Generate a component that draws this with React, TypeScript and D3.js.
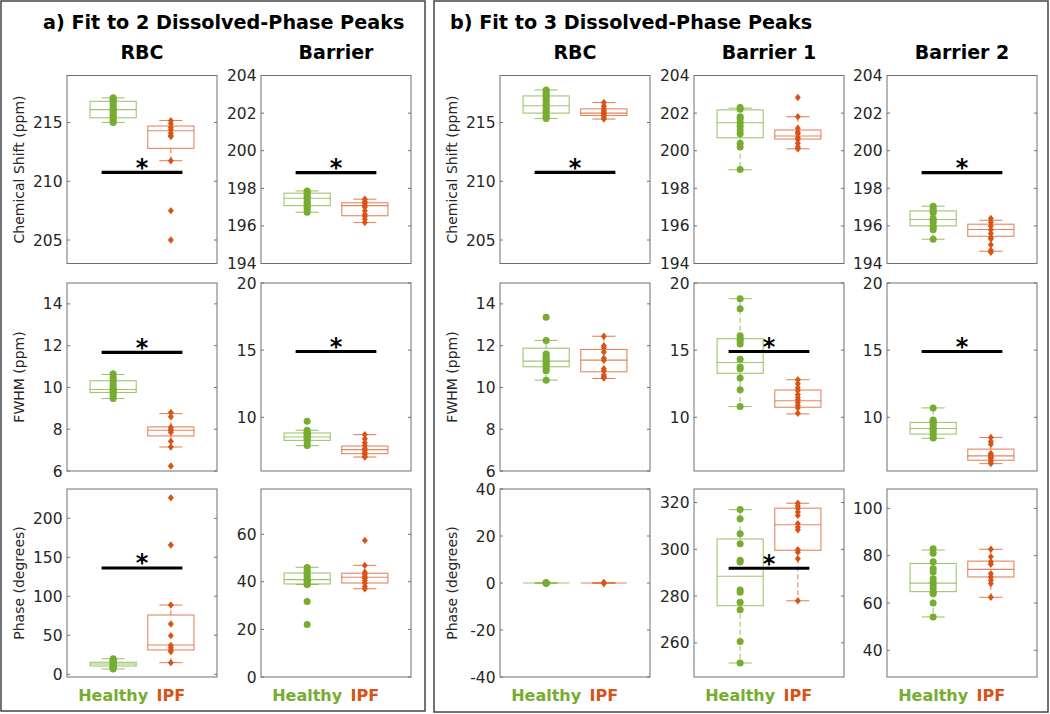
import React from "react";
import * as d3 from "d3";

const GREEN = "#77AC30";
const ORANGE = "#D95319";

const groups = ["Healthy", "IPF"];
const titleA = "a) Fit to 2 Dissolved-Phase Peaks";
const titleB = "b) Fit to 3 Dissolved-Phase Peaks";
const columnTitles = ["RBC", "Barrier", "RBC", "Barrier 1", "Barrier 2"];
const rowLabels = ["Chemical Shift (ppm)", "FWHM (ppm)", "Phase (degrees)"];

// ---------- Row 1: Chemical shift (ppm) ----------
const csRbcA_H = [217.1, 217.0, 216.9, 216.8, 216.6, 216.4, 216.2, 216.1, 216.0, 215.8, 215.6, 215.5, 215.3, 215.1, 215.0];
const csRbcA_I = [215.15, 214.9, 214.6, 214.4, 214.1, 213.9, 213.8, 211.75, 207.5, 205.0];
const csRbcA_Box = [[215.0, 215.4, 216.1, 216.8, 217.1], [211.75, 212.8, 214.3, 214.7, 215.17]];

const csBarA_H = [197.86, 197.8, 197.7, 197.6, 197.5, 197.45, 197.3, 197.2, 197.1, 197.0, 196.9, 196.73];
const csBarA_I = [197.42, 197.3, 197.2, 197.1, 197.0, 196.8, 196.6, 196.5, 196.35, 196.18];
const csBarA_Box = [[196.73, 197.08, 197.47, 197.74, 197.86], [196.18, 196.54, 197.08, 197.23, 197.42]];

const csRbcB_H = [217.77, 217.6, 217.4, 217.2, 217.0, 216.8, 216.6, 216.4, 216.2, 216.0, 215.8, 215.6, 215.45, 215.34];
const csRbcB_I = [216.7, 216.4, 216.2, 216.0, 215.9, 215.8, 215.7, 215.6, 215.45, 215.29];
const csRbcB_Box = [[215.34, 215.8, 216.42, 217.26, 217.77], [215.29, 215.6, 215.8, 216.16, 216.7]];

const csBar1B_H = [202.3, 202.2, 201.8, 201.7, 201.5, 201.3, 201.1, 200.9, 200.4, 200.2, 199.0];
const csBar1B_I = [202.83, 201.81, 201.2, 201.0, 200.9, 200.7, 200.6, 200.4, 200.2, 200.1];
const csBar1B_Box = [[198.99, 200.69, 201.49, 202.17, 202.26], [200.1, 200.62, 200.78, 201.1, 201.81]];

const csBar2B_H = [197.05, 196.9, 196.8, 196.7, 196.4, 196.3, 196.2, 196.0, 195.9, 195.8, 195.29];
const csBar2B_I = [196.4, 196.2, 196.0, 195.8, 195.6, 195.4, 195.3, 195.0, 194.7, 194.6];
const csBar2B_Box = [[195.29, 196.0, 196.34, 196.8, 197.05], [194.65, 195.45, 195.81, 196.09, 196.3]];

// ---------- Row 2: FWHM (ppm) ----------
const fwRbcA_H = [10.65, 10.5, 10.4, 10.3, 10.15, 10.0, 9.9, 9.85, 9.8, 9.7, 9.6, 9.47];
const fwRbcA_I = [8.8, 8.6, 8.1, 8.0, 7.95, 7.85, 7.42, 7.15, 6.24];
const fwRbcA_Box = [[9.47, 9.76, 9.9, 10.32, 10.62], [7.15, 7.68, 7.95, 8.11, 8.75]];

const fwBarA_H = [9.7, 9.03, 8.9, 8.8, 8.7, 8.6, 8.5, 8.4, 8.3, 8.1, 7.9];
const fwBarA_I = [8.71, 8.4, 8.1, 7.9, 7.7, 7.55, 7.4, 7.25, 7.1, 7.04];
const fwBarA_Box = [[7.89, 8.28, 8.53, 8.83, 9.03], [7.04, 7.29, 7.59, 7.86, 8.71]];

const fwRbcB_H = [13.36, 12.25, 11.6, 11.5, 11.4, 11.3, 11.2, 11.1, 11.0, 10.9, 10.8, 10.35];
const fwRbcB_I = [12.45, 12.0, 11.9, 11.7, 11.4, 11.3, 10.9, 10.8, 10.6, 10.5, 10.45];
const fwRbcB_Box = [[10.35, 10.99, 11.26, 11.88, 12.25], [10.43, 10.75, 11.31, 11.82, 12.45]];

const fwBar1B_H = [18.83, 18.08, 16.08, 15.85, 15.68, 15.45, 14.33, 13.75, 13.62, 12.93, 12.05, 10.8];
const fwBar1B_I = [12.8, 12.5, 12.2, 12.0, 11.7, 11.5, 11.3, 11.1, 10.9, 10.7, 10.3];
const fwBar1B_Box = [[10.8, 13.28, 14.08, 15.85, 18.83], [10.25, 10.75, 11.23, 12.03, 12.8]];

const fwBar2B_H = [10.7, 9.8, 9.7, 9.6, 9.5, 9.3, 9.1, 9.0, 8.8, 8.6, 8.45];
const fwBar2B_I = [8.5, 8.2, 8.0, 7.3, 7.2, 7.1, 7.0, 6.9, 6.7, 6.55];
const fwBar2B_Box = [[8.43, 8.75, 9.17, 9.62, 10.7], [6.55, 6.8, 7.13, 7.63, 8.5]];

// ---------- Row 3: Phase (degrees) ----------
const phRbcA_H = [20, 18, 17, 15.5, 14, 13, 12, 11, 10, 9, 8, 6.8];
const phRbcA_I = [226.4, 165.8, 88.8, 64.5, 49.5, 37, 34, 31, 29, 14.9];
const phRbcA_Box = [[6.8, 10.6, 13.2, 15.4, 20], [14.9, 31.2, 37.6, 76, 88.8]];

const phBarA_H = [46, 45, 44, 43, 42, 41, 40.5, 40, 39, 38.9, 31.7, 22.1];
const phBarA_I = [57.4, 46.9, 44, 43, 42, 41.5, 40.5, 39.5, 38, 37.1];
const phBarA_Box = [[38.9, 39.1, 40.9, 43.7, 46.1], [37.1, 39.5, 41.9, 43.6, 46.9]];

const phRbcB_H = [0, 0, 0, 0, 0, 0];
const phRbcB_I = [0, 0, 0, 0, 0, 0];
const phRbcB_Box = [[0, 0, 0, 0, 0], [0, 0, 0, 0, 0]];

const phBar1B_H = [317.0, 313.1, 306.7, 302.4, 295.3, 294.6, 282.6, 281.6, 277.4, 274.2, 260.6, 251.4];
const phBar1B_I = [319.7, 318.5, 317.5, 316, 314.5, 311, 309.5, 308.4, 299.8, 298.8, 296, 278];
const phBar1B_Box = [[251.4, 275.9, 288.5, 304.4, 317.0], [278, 299.6, 310.5, 317.6, 319.7]];

const phBar2B_H = [82.9, 81.0, 77.4, 74.6, 73.1, 70.3, 68.8, 67.4, 66.0, 64.5, 63.9, 60.0, 54.1];
const phBar2B_I = [82.7, 79.6, 77.4, 76.4, 72.4, 71.0, 69.6, 68.2, 62.4];
const phBar2B_Box = [[54.1, 64.8, 68.4, 76.7, 82.4], [62.4, 71.0, 74.2, 77.7, 82.7]];

// ---------- Axis limits, ticks and significance bars (row-major, 5 columns) ----------
const yDomains = [
  [203, 219], [194, 204], [203, 219], [194, 204], [194, 204],
  [6, 15], [6, 20], [6, 15], [6, 20], [6, 20],
  [-3.5, 237.6], [0, 79], [-40, 40], [245.4, 325.8], [28.7, 108.2],
];
const yTicks = [
  [205, 210, 215], [194, 196, 198, 200, 202, 204], [205, 210, 215], [194, 196, 198, 200, 202, 204], [194, 196, 198, 200, 202, 204],
  [6, 8, 10, 12, 14], [10, 15, 20], [6, 8, 10, 12, 14], [10, 15, 20], [10, 15, 20],
  [0, 50, 100, 150, 200], [0, 20, 40, 60], [-40, -20, 0, 20, 40], [260, 280, 300, 320], [40, 60, 80, 100],
];
const sigBars = [
  210.75, 198.83, 210.75, null, 198.83,
  11.68, 14.9, null, 14.9, 14.9,
  136.3, null, null, 291.9, null,
];

const healthyPoints = [csRbcA_H, csBarA_H, csRbcB_H, csBar1B_H, csBar2B_H, fwRbcA_H, fwBarA_H, fwRbcB_H, fwBar1B_H, fwBar2B_H, phRbcA_H, phBarA_H, phRbcB_H, phBar1B_H, phBar2B_H];
const ipfPoints = [csRbcA_I, csBarA_I, csRbcB_I, csBar1B_I, csBar2B_I, fwRbcA_I, fwBarA_I, fwRbcB_I, fwBar1B_I, fwBar2B_I, phRbcA_I, phBarA_I, phRbcB_I, phBar1B_I, phBar2B_I];
const boxStats = [csRbcA_Box, csBarA_Box, csRbcB_Box, csBar1B_Box, csBar2B_Box, fwRbcA_Box, fwBarA_Box, fwRbcB_Box, fwBar1B_Box, fwBar2B_Box, phRbcA_Box, phBarA_Box, phRbcB_Box, phBar1B_Box, phBar2B_Box];

// ---------- Layout ----------
const W = 1050, H = 714;
const COL_X = [67, 261, 500, 694, 887];
const ROW_Y = [75.5, 283, 489];
const PW = 150, PH = 188;
const FONT = "'DejaVu Sans', Verdana, sans-serif";
const AX = "#707070";
const TXT = "#262626";

function Panel({ idx }: { idx: number }) {
  const col = idx % 5, row = Math.floor(idx / 5);
  const x0 = COL_X[col], y0 = ROW_Y[row];
  const x = d3.scaleLinear().domain([0.2, 2.8]).range([x0, x0 + PW]);
  const y = d3.scaleLinear().domain(yDomains[idx]).range([y0 + PH, y0]);
  const colors = [GREEN, ORANGE];
  const pts = [healthyPoints[idx], ipfPoints[idx]];
  const sig = sigBars[idx];
  const diamond = (cx: number, cy: number) =>
    `M${cx},${cy - 3.7}L${cx + 3},${cy}L${cx},${cy + 3.7}L${cx - 3},${cy}Z`;
  return (
    <g>
      {/* ticks */}
      {yTicks[idx].map((t) => (
        <g key={t}>
          <line x1={x0} x2={x0 + 3} y1={y(t)} y2={y(t)} stroke={AX} strokeWidth={1} />
          <line x1={x0 + PW - 3} x2={x0 + PW} y1={y(t)} y2={y(t)} stroke={AX} strokeWidth={1} />
          <text x={x0 - 4.5} y={y(t)} dy="0.36em" textAnchor="end" fontSize={15.5} fill={TXT} fontFamily={FONT}>
            {t}
          </text>
        </g>
      ))}
      {/* boxes */}
      {boxStats[idx].map((b, g) => {
        const c = g + 1;
        const [lo, q1, med, q3, hi] = b;
        const col = colors[g];
        return (
          <g key={g} stroke={col} strokeOpacity={0.7} strokeWidth={1.1} fill="none">
            <line x1={x(c)} x2={x(c)} y1={y(q3)} y2={y(hi)} strokeDasharray="5,3" />
            <line x1={x(c)} x2={x(c)} y1={y(q1)} y2={y(lo)} strokeDasharray="5,3" />
            <line x1={x(c - 0.2)} x2={x(c + 0.2)} y1={y(hi)} y2={y(hi)} />
            <line x1={x(c - 0.2)} x2={x(c + 0.2)} y1={y(lo)} y2={y(lo)} />
            <rect x={x(c - 0.4)} y={y(q3)} width={x(c + 0.4) - x(c - 0.4)} height={Math.max(0, y(q1) - y(q3))} />
            <line x1={x(c - 0.4)} x2={x(c + 0.4)} y1={y(med)} y2={y(med)} />
          </g>
        );
      })}
      {/* points */}
      {pts[0].map((v, i) => (
        <circle key={"h" + i} cx={x(1)} cy={y(v)} r={3.5} fill={GREEN} />
      ))}
      {pts[1].map((v, i) => (
        <path key={"i" + i} d={diamond(x(2), y(v))} fill={ORANGE} />
      ))}
      {/* significance */}
      {sig !== null && (
        <g>
          <line x1={x(0.8)} x2={x(2.2)} y1={y(sig)} y2={y(sig)} stroke="#000" strokeWidth={3.2} />
          <text x={x(1.5)} y={y(sig) + 3.5} textAnchor="middle" fontSize={24} fontWeight="bold" fill="#000" fontFamily={FONT}>
            *
          </text>
        </g>
      )}
      <rect x={x0} y={y0} width={PW} height={PH} fill="none" stroke={AX} strokeWidth={1} />
      {/* y label */}
      {(col === 0 || col === 2) && (
        <text
          transform={`translate(${x0 - 43},${y0 + PH / 2}) rotate(-90)`}
          textAnchor="middle"
          fontSize={14}
          fill={TXT}
          fontFamily={FONT}
        >
          {rowLabels[row]}
        </text>
      )}
      {/* group labels */}
      {row === 2 &&
        groups.map((g, i) => (
          <text key={g} x={x(i + 1)} y={701} textAnchor="middle" fontSize={16} fontWeight="bold" fill={colors[i]} fontFamily={FONT}>
            {g}
          </text>
        ))}
      {/* column title */}
      {row === 0 && (
        <text x={x0 + PW / 2} y={58.5} textAnchor="middle" fontSize={19} fontWeight="bold" fill="#000" fontFamily={FONT}>
          {columnTitles[col]}
        </text>
      )}
    </g>
  );
}

export default function App() {
  const idxs = d3.range(15);
  return (
    <svg width={W} height={H} style={{ position: "absolute", left: 0, top: 0, background: "#fff" }}>
      <rect x={0} y={0} width={W} height={H} fill="#fff" />
      <rect x={1} y={1} width={424} height={710} fill="none" stroke="#444" strokeWidth={1.5} />
      <rect x={434} y={1} width={614} height={711} fill="none" stroke="#444" strokeWidth={1.5} />
      <text x={43} y={28.5} fontSize={19.2} fontWeight="bold" fill="#000" fontFamily={FONT}>
        {titleA}
      </text>
      <text x={450} y={28.5} fontSize={19.2} fontWeight="bold" fill="#000" fontFamily={FONT}>
        {titleB}
      </text>
      {idxs.map((i) => (
        <Panel key={i} idx={i} />
      ))}
    </svg>
  );
}
